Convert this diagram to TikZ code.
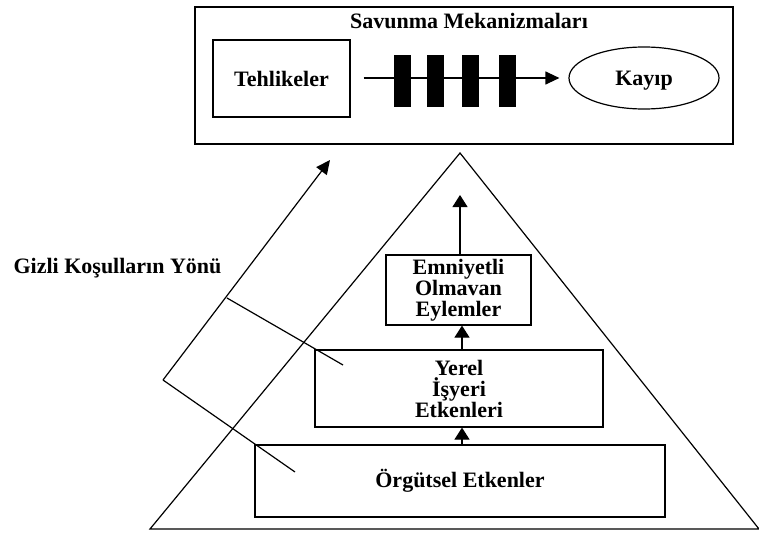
\documentclass[tikz,border=0pt]{standalone}
\usepackage{fontspec}
\setmainfont{Liberation Serif}
\usetikzlibrary{arrows.meta,shapes.geometric}
\begin{document}
\begin{tikzpicture}[x=1pt,y=-1pt,line width=1.2pt,
  txt/.style={font=\bfseries\fontsize{22}{21}\selectfont, align=center, inner sep=0pt},
  box/.style={draw, rectangle, txt},
  bar/.style={fill=black, draw=none, rectangle, minimum width=17pt, minimum height=52pt, inner sep=0pt},
  flow/.style={-{Triangle[length=14pt,width=13pt]}},
  up/.style={-{Triangle[length=12pt,width=15pt]}}]
\useasboundingbox (0,0) rectangle (759,532);

% defence layer box at the top
\node[box, minimum width=538pt, minimum height=137pt] (defence) at (464,75.5) {};
\node[txt] (title) at (469,21) {Savunma Mekanizmaları};
\node[box, minimum width=137pt, minimum height=77pt] (hazard) at (281.5,78.5) {Tehlikeler};
\node[txt, draw, ellipse, minimum width=150pt, minimum height=62pt, text depth=0pt] (loss) at (644,78) {Kayıp};
\draw[flow] ([yshift=0.5pt]hazard.east) ++(13,0) coordinate (flowstart) -- ([xshift=-9pt]loss.west |- flowstart);
\node[bar] (bar1) at (402,81) {};
\node[bar] (bar2) at (435,81) {};
\node[bar] (bar3) at (470,81) {};
\node[bar] (bar4) at (507,81) {};

% pyramid
\coordinate (apex) at (460,153);
\coordinate (baseL) at (150,529);
\coordinate (baseR) at (759,529);
\draw (baseL) -- (apex) -- (baseR) -- cycle;

\node[box, minimum width=410pt, minimum height=72pt] (org) at (460,481) {Örgütsel Etkenler};
\node[box, minimum width=288pt, minimum height=77pt] (local) at (459,388.5) {Yerel\\İşyeri\\Etkenleri};
\node[box, minimum width=145pt, minimum height=70pt] (unsafe) at (458.5,290) {Emniyetli\\Olmavan\\Eylemler};
\coordinate (peak) at (460,195);

\draw[up] ([xshift=2pt]org.north) -- ([xshift=3pt]local.south);
\draw[up] ([xshift=3pt]local.north) -- ([xshift=3.5pt]unsafe.south);
\draw[up] ([xshift=1.5pt]unsafe.north) -- (peak);

% direction of latent conditions
\coordinate (corner) at (163,380);
\coordinate (tip) at (330,160);
\coordinate (foot) at (295,472);
\coordinate (mid) at (227,298);
\coordinate (midend) at (343,365);
\draw[flow] (corner) -- (tip);
\draw (corner) -- (foot);
\draw (mid) -- (midend);
\node[txt, anchor=base west] (latent) at (13,273) {Gizli Koşulların Yönü};
\end{tikzpicture}
\end{document}
